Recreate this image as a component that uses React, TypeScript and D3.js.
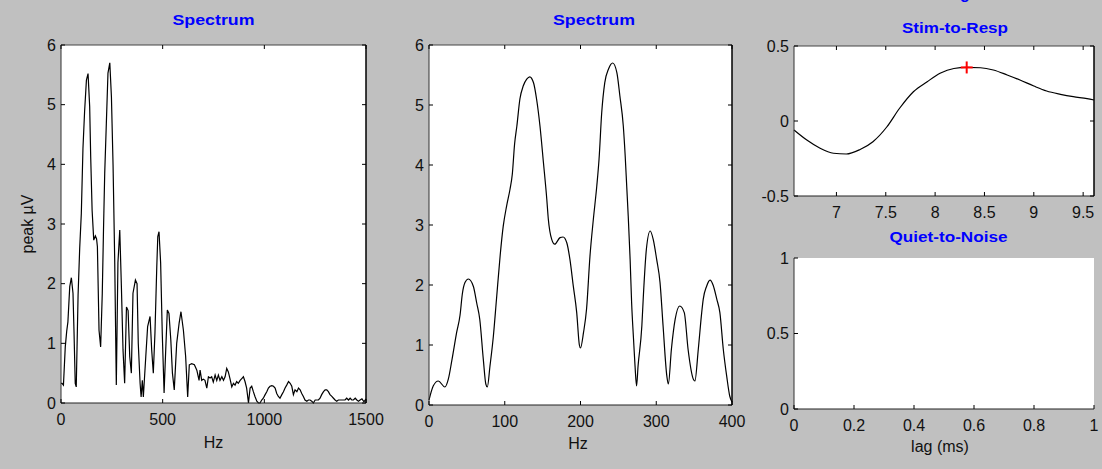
import React from "react";
import * as d3 from "d3";

// ---------- data ----------
const fullHz = [0, 5, 12, 21, 28, 34, 43, 51, 59, 64, 70, 75, 84, 92, 100, 108, 116, 125, 133, 141, 146, 153, 161, 169, 175, 179, 187, 195, 203, 209, 215, 223, 231, 240, 248, 256, 264, 272, 280, 289, 297, 305, 313, 322, 330, 338, 346, 354, 366, 374, 380, 389, 394, 400, 405, 417, 426, 438, 446, 454, 462, 471, 476, 482, 490, 498, 507, 515, 523, 531, 540, 548, 557, 569, 581, 590, 602, 613, 623, 631, 643, 656, 668, 679, 684, 692, 700, 708, 717, 725, 733, 741, 749, 758, 766, 774, 782, 791, 799, 807, 815, 823, 831, 840, 848, 856, 864, 872, 881, 889, 897, 905, 913, 922, 930, 938, 946, 954, 963, 971, 979, 987, 995, 1004, 1012, 1020, 1028, 1037, 1045, 1053, 1061, 1069, 1077, 1086, 1094, 1102, 1110, 1119, 1127, 1135, 1143, 1151, 1160, 1168, 1176, 1184, 1192, 1200, 1209, 1217, 1225, 1233, 1241, 1250, 1258, 1266, 1274, 1282, 1291, 1299, 1307, 1315, 1323, 1332, 1340, 1348, 1356, 1364, 1373, 1381, 1389, 1397, 1405, 1414, 1422, 1430, 1438, 1447, 1455, 1463, 1471, 1480, 1490, 1500];
const fullVal = [0.33, 0.33, 0.3, 0.94, 1.2, 1.36, 1.95, 2.1, 1.84, 1.19, 0.33, 0.27, 1.81, 2.6, 3.18, 4.27, 4.88, 5.41, 5.52, 4.97, 4.13, 3.23, 2.73, 2.8, 2.75, 2.62, 1.22, 0.94, 1.84, 2.9, 3.85, 4.69, 5.53, 5.7, 5.13, 3.99, 2.43, 0.3, 2.35, 2.9, 1.95, 0.89, 0.33, 1.61, 1.55, 0.78, 0.5, 1.84, 2.06, 2.0, 1.0, 0.33, 0.1, 0.38, 0.1, 0.78, 1.28, 1.45, 0.89, 0.5, 1.17, 2.28, 2.79, 2.87, 2.35, 1.17, 0.17, 0.89, 1.56, 1.5, 1.06, 0.5, 0.22, 1.0, 1.34, 1.53, 1.22, 0.78, 0.1, 0.64, 0.66, 0.64, 0.55, 0.38, 0.55, 0.38, 0.4, 0.38, 0.25, 0.44, 0.42, 0.44, 0.35, 0.47, 0.38, 0.47, 0.38, 0.44, 0.38, 0.44, 0.58, 0.52, 0.41, 0.27, 0.33, 0.3, 0.36, 0.33, 0.38, 0.41, 0.44, 0.36, 0.25, 0.0, 0.25, 0.28, 0.19, 0.11, 0.03, 0.0, 0.0, 0.05, 0.08, 0.14, 0.19, 0.25, 0.28, 0.29, 0.28, 0.25, 0.16, 0.11, 0.08, 0.14, 0.19, 0.25, 0.3, 0.36, 0.33, 0.28, 0.14, 0.22, 0.19, 0.25, 0.22, 0.16, 0.11, 0.05, 0.03, 0.05, 0.05, 0.03, 0.0, 0.05, 0.05, 0.05, 0.08, 0.14, 0.19, 0.22, 0.22, 0.19, 0.14, 0.11, 0.08, 0.05, 0.03, 0.05, 0.05, 0.05, 0.05, 0.05, 0.08, 0.05, 0.08, 0.05, 0.05, 0.08, 0.05, 0.03, 0.05, 0.07, 0.02, 0.07];

const zoomHz = [0, 5.7, 12.3, 21, 25.5, 30, 36.5, 41, 44, 47.5, 52, 58.5, 63, 67, 71.7, 75, 77, 80.5, 85, 89, 94, 98, 102.5, 107, 110, 113, 116, 120, 124.5, 129, 133, 138, 142, 146.5, 151, 155.5, 157.5, 162, 166, 173, 177, 182, 186, 190.5, 195, 198.5, 200, 204, 208, 212.5, 217, 221.5, 224.5, 228, 232, 237, 242.5, 248, 252, 256.5, 259, 261, 263, 265.5, 267.5, 270, 272, 274, 276, 281, 283, 287, 292, 296, 300.5, 305, 309, 314, 316, 320, 325, 331, 337, 342, 349, 351, 355.5, 360, 362, 366.5, 371, 375, 380, 384, 388.5, 393, 397, 400];
const zoomVal = [0.08, 0.32, 0.4, 0.3, 0.43, 0.73, 1.21, 1.5, 1.85, 2.04, 2.1, 1.98, 1.7, 1.43, 0.76, 0.35, 0.3, 0.65, 1.15, 1.75, 2.5, 2.98, 3.32, 3.6, 3.85, 4.35, 4.65, 5.1, 5.32, 5.43, 5.47, 5.37, 5.1, 4.65, 4.05, 3.43, 3.1, 2.76, 2.68, 2.79, 2.8, 2.7, 2.43, 1.98, 1.54, 1.0, 0.95, 1.21, 1.6, 2.48, 3.1, 3.65, 4.1, 4.87, 5.37, 5.6, 5.7, 5.54, 5.15, 4.65, 4.15, 3.65, 3.15, 2.43, 1.7, 1.1, 0.65, 0.32, 0.65, 1.32, 1.82, 2.6, 2.9, 2.76, 2.43, 2.04, 1.32, 0.48, 0.35, 0.93, 1.43, 1.65, 1.54, 0.93, 0.43, 0.4, 0.93, 1.54, 1.76, 1.98, 2.08, 2.0, 1.76, 1.54, 0.93, 0.48, 0.15, 0.05];

const lagMs = [6.57, 6.70, 6.83, 6.97, 7.10, 7.24, 7.37, 7.51, 7.64, 7.78, 7.92, 8.05, 8.19, 8.32, 8.46, 8.59, 8.73, 8.86, 9.0, 9.13, 9.27, 9.40, 9.54, 9.61];
const corrVal = [-0.06, -0.127, -0.18, -0.215, -0.22, -0.19, -0.138, -0.04, 0.085, 0.195, 0.262, 0.318, 0.35, 0.357, 0.355, 0.34, 0.307, 0.273, 0.233, 0.2, 0.178, 0.162, 0.149, 0.14];
const peakLag = [8.32];
const peakCorr = [0.357];

const fullXTicks = [0, 500, 1000, 1500];
const zoomXTicks = [0, 100, 200, 300, 400];
const specYTicks = [0, 1, 2, 3, 4, 5, 6];
const corrXTicks = [7, 7.5, 8, 8.5, 9, 9.5];
const corrYTicks = [-0.5, 0, 0.5];
const qnXTicks = [0, 0.2, 0.4, 0.6, 0.8, 1];
const qnYTicks = [0, 0.5, 1];

const titles = ["Spectrum", "Spectrum", "Stim-to-Resp", "Quiet-to-Noise"];

// ---------- helpers ----------
const FONT = "'Liberation Sans', Arial, Helvetica, sans-serif";
const TICK = 4;

type Sc = d3.ScaleLinear<number, number>;

function Panel(props: {
  x: Sc;
  y: Sc;
  xTicks: number[];
  yTicks: number[];
  full?: boolean;
  children?: React.ReactNode;
}) {
  const { x, y, xTicks, yTicks, full = true } = props;
  const [x0, x1] = x.range();
  const [y0, y1] = y.range(); // y0 bottom, y1 top
  const fmt = (v: number) => String(v);
  return (
    <g>
      <rect x={x0} y={y1} width={x1 - x0} height={y0 - y1} fill="#fff" />
      {props.children}
      {/* frame */}
      <line x1={x0} x2={x0} y1={y1} y2={y0} stroke="#333" />
      <line x1={x0} x2={x1} y1={y0} y2={y0} stroke="#222" />
      {full && <line x1={x0} x2={x1} y1={y1} y2={y1} stroke="#444" />}
      {full && <line x1={x1} x2={x1} y1={y1} y2={y0} stroke="#000" strokeWidth={1.5} />}
      {xTicks.map((t) => (
        <g key={"x" + t}>
          <line x1={x(t)} x2={x(t)} y1={y0} y2={y0 - TICK} stroke="#000" />
          {full && <line x1={x(t)} x2={x(t)} y1={y1} y2={y1 + TICK} stroke="#000" />}
          <text x={x(t)} y={y0 + 22} textAnchor="middle" fontSize={16} fontFamily={FONT} fill="#111">
            {fmt(t)}
          </text>
        </g>
      ))}
      {yTicks.map((t) => (
        <g key={"y" + t}>
          <line x1={x0} x2={x0 + TICK} y1={y(t)} y2={y(t)} stroke="#000" />
          {full && <line x1={x1} x2={x1 - TICK} y1={y(t)} y2={y(t)} stroke="#000" />}
          <text x={x0 - 5} y={y(t)} dy="0.36em" textAnchor="end" fontSize={16} fontFamily={FONT} fill="#111">
            {fmt(t)}
          </text>
        </g>
      ))}
    </g>
  );
}

function Title(props: { x: number; y: number; text: string; len: number }) {
  return (
    <text
      x={props.x}
      y={props.y}
      textAnchor="middle"
      fontSize={15}
      fontWeight="bold"
      fontFamily={FONT}
      fill="#0000ff"
      textLength={props.len}
      lengthAdjust="spacingAndGlyphs"
    >
      {props.text}
    </text>
  );
}

export default function App() {
  // scales
  const xFull = d3.scaleLinear().domain([0, 1500]).range([61, 366]);
  const yFull = d3.scaleLinear().domain([0, 6]).range([403, 45]);
  const xZoom = d3.scaleLinear().domain([0, 400]).range([429, 732]);
  const yZoom = d3.scaleLinear().domain([0, 6]).range([405, 45]);
  const xCorr = d3.scaleLinear().domain([6.57, 9.61]).range([794, 1094]);
  const yCorr = d3.scaleLinear().domain([-0.5, 0.5]).range([196, 46]);
  const xQn = d3.scaleLinear().domain([0, 1]).range([794, 1094]);
  const yQn = d3.scaleLinear().domain([0, 1]).range([409, 258]);

  const fullLine = d3
    .line<number>()
    .x((_, i) => xFull(fullHz[i]))
    .y((v) => yFull(v))
    .curve(d3.curveLinear);
  const zoomLine = d3
    .line<number>()
    .x((_, i) => xZoom(zoomHz[i]))
    .y((v) => yZoom(v))
    .curve(d3.curveMonotoneX);
  const corrLine = d3
    .line<number>()
    .x((_, i) => xCorr(lagMs[i]))
    .y((v) => yCorr(v))
    .curve(d3.curveMonotoneX);

  return (
    <svg
      width={1102}
      height={469}
      style={{ position: "absolute", left: 0, top: 0, display: "block" }}
    >
      <rect x={0} y={0} width={1102} height={469} fill="#c0c0c0" />

      {/* cut-off figure title (only descender visible, as in the reference) */}
      <text x={965} y={-1} textAnchor="middle" fontSize={16} fontWeight="bold" fontFamily={FONT} fill="#0000ff">
        g
      </text>

      {/* Left spectrum */}
      <Panel x={xFull} y={yFull} xTicks={fullXTicks} yTicks={specYTicks}>
        <path d={fullLine(fullVal) || ""} fill="none" stroke="#000" strokeWidth={1.2} />
      </Panel>
      <Title x={213.5} y={25} text={titles[0]} len={82} />
      <text x={213.5} y={448} textAnchor="middle" fontSize={16} fontFamily={FONT} fill="#111">
        Hz
      </text>
      <text
        transform="translate(33,224) rotate(-90)"
        textAnchor="middle"
        fontSize={16}
        fontFamily={FONT}
        fill="#111"
      >
        peak µV
      </text>

      {/* Middle spectrum */}
      <Panel x={xZoom} y={yZoom} xTicks={zoomXTicks} yTicks={specYTicks}>
        <path d={zoomLine(zoomVal) || ""} fill="none" stroke="#000" strokeWidth={1.2} />
      </Panel>
      <Title x={594} y={25} text={titles[1]} len={82} />
      <text x={578} y={449} textAnchor="middle" fontSize={16} fontFamily={FONT} fill="#111">
        Hz
      </text>

      {/* Right top: Stim-to-Resp */}
      <Panel x={xCorr} y={yCorr} xTicks={corrXTicks} yTicks={corrYTicks}>
        <path d={corrLine(corrVal) || ""} fill="none" stroke="#000" strokeWidth={1.2} />
        {peakLag.map((l, i) => (
          <g key={i} stroke="#ff0000" strokeWidth={2}>
            <line x1={xCorr(l) - 6} x2={xCorr(l) + 6} y1={yCorr(peakCorr[i])} y2={yCorr(peakCorr[i])} />
            <line x1={xCorr(l)} x2={xCorr(l)} y1={yCorr(peakCorr[i]) - 6} y2={yCorr(peakCorr[i]) + 6} />
          </g>
        ))}
      </Panel>
      <Title x={955} y={33} text={titles[2]} len={106} />

      {/* Right bottom: Quiet-to-Noise */}
      <Panel x={xQn} y={yQn} xTicks={qnXTicks} yTicks={qnYTicks} full={false} />
      <Title x={948.5} y={242} text={titles[3]} len={118} />
      <text x={940} y={452} textAnchor="middle" fontSize={16} fontFamily={FONT} fill="#111">
        lag (ms)
      </text>
    </svg>
  );
}
